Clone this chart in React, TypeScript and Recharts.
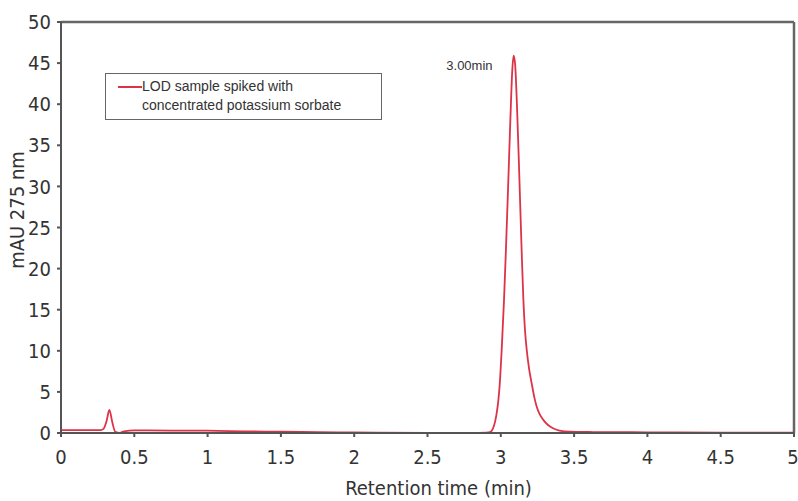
import {
  Legend,
  Line,
  LineChart,
  ReferenceDot,
  ReferenceLine,
  XAxis,
  YAxis
} from "recharts";

// retention time (min) and absorbance (mAU at 275 nm)
const times = [
  0, 0.1, 0.2, 0.27, 0.29, 0.31, 0.33, 0.35, 0.37, 0.4, 0.43, 0.5, 0.75, 1.0, 1.25, 1.5, 1.75, 2.0, 2.5, 2.8, 2.9,
  2.926, 2.954, 2.97, 2.983, 2.995, 3.006, 3.022, 3.035, 3.05, 3.065, 3.078, 3.087, 3.097, 3.11, 3.125, 3.142,
  3.154, 3.165, 3.177, 3.193, 3.21, 3.228, 3.245, 3.265, 3.29, 3.32, 3.356, 3.4, 3.47, 3.6, 3.8, 4.0, 4.5, 5.0
];
const mAU = [
  0.35, 0.35, 0.35, 0.36, 0.5, 1.4, 2.8, 1.3, 0.15, 0.0, 0.2, 0.32, 0.3, 0.28, 0.2, 0.15, 0.1, 0.06, 0.02, 0.02, 0.05,
  0.1, 0.9, 2.2, 3.9, 6.5, 10.1, 16.2, 22.3, 30, 38, 44, 45.9, 45, 40, 32, 22.3,
  16.2, 12.5, 10.1, 7.8, 6.1, 4.4, 3.2, 2.3, 1.6, 1.0, 0.57, 0.3, 0.16, 0.12, 0.1, 0.08, 0.05, 0.05
];

const xTicks = [0, 0.5, 1, 1.5, 2, 2.5, 3, 3.5, 4, 4.5, 5];
const yTicks = [0, 5, 10, 15, 20, 25, 30, 35, 40, 45, 50];

const seriesName = "LOD sample spiked with concentrated potassium sorbate";
const peakLabel = "3.00min";
const peakTime = 3.087;
const peakValue = 45.9;

const data = times.map((t, i) => ({ t, v: mAU[i] }));

const font = "'Liberation Sans Narrow', 'Arial Narrow', 'DejaVu Sans Condensed', sans-serif";
const axisColor = "#555";
const lineColor = "#dc3349";

function LegendBox() {
  return (
    <div
      style={{
        border: "1.5px solid #666",
        background: "#fff",
        padding: "3px 8px 4px 12px",
        display: "flex",
        alignItems: "flex-start",
        fontFamily: "'Liberation Sans', Arial, sans-serif",
        fontSize: 14,
        lineHeight: "19px",
        color: "#333",
        boxSizing: "border-box",
        width: 277
      }}
    >
      <span style={{ display: "inline-block", width: 24, height: 2, background: lineColor, marginTop: 9, flexShrink: 0 }} />
      <span>
        LOD sample spiked with
        <br />
        concentrated potassium sorbate
      </span>
    </div>
  );
}

export default function App() {
  return (
    <div style={{ position: "absolute", left: 0, top: 0, width: 798, height: 501, background: "#fff" }}>
      <LineChart width={798} height={501} data={data} margin={{ top: 22, right: 4, bottom: 0, left: 0 }}>
        <XAxis
          dataKey="t"
          type="number"
          domain={[0, 5]}
          ticks={xTicks}
          allowDataOverflow
          height={68}
          stroke={axisColor}
          strokeWidth={2}
          tickSize={4}
          tickMargin={13}
          tick={{ fill: "#333", fontSize: 20, fontFamily: font }}
          label={({ viewBox }: any) => (
            <text
              x={viewBox.x + viewBox.width / 2 + 11}
              y={495}
              textAnchor="middle"
              fill="#333"
              fontSize={20}
              fontFamily={font}
            >
              Retention time (min)
            </text>
          )}
        />
        <YAxis
          type="number"
          domain={[0, 50]}
          ticks={yTicks}
          allowDataOverflow
          width={61}
          stroke={axisColor}
          strokeWidth={2}
          tickSize={4}
          tickMargin={6}
          tick={{ fill: "#333", fontSize: 20, fontFamily: font }}
          label={() => (
            <text
              x={17}
              y={210}
              transform="rotate(-90 17 210)"
              textAnchor="middle"
              dominantBaseline="central"
              fill="#333"
              fontSize={20}
              fontFamily={font}
            >
              mAU 275 nm
            </text>
          )}
        />
        <ReferenceLine y={50} stroke="#666" strokeWidth={2.5} />
        <ReferenceLine x={5} stroke="#666" strokeWidth={2.5} />
        <Legend
          layout="horizontal"
          verticalAlign="middle"
          align="center"
          wrapperStyle={{ left: 105, top: 73, width: 277 }}
          content={() => <LegendBox />}
        />
        <Line
          type="monotone"
          dataKey="v"
          name={seriesName}
          stroke={lineColor}
          strokeWidth={1.8}
          dot={false}
          isAnimationActive={false}
        />
        <ReferenceDot
          x={peakTime}
          y={peakValue}
          r={0}
          label={({ viewBox }: any) => (
            <text
              x={viewBox.x - 21}
              y={viewBox.y + 14}
              textAnchor="end"
              fill="#333"
              fontSize={13}
              fontFamily="'Liberation Sans', Arial, sans-serif"
            >
              {peakLabel}
            </text>
          )}
        />
      </LineChart>
    </div>
  );
}
